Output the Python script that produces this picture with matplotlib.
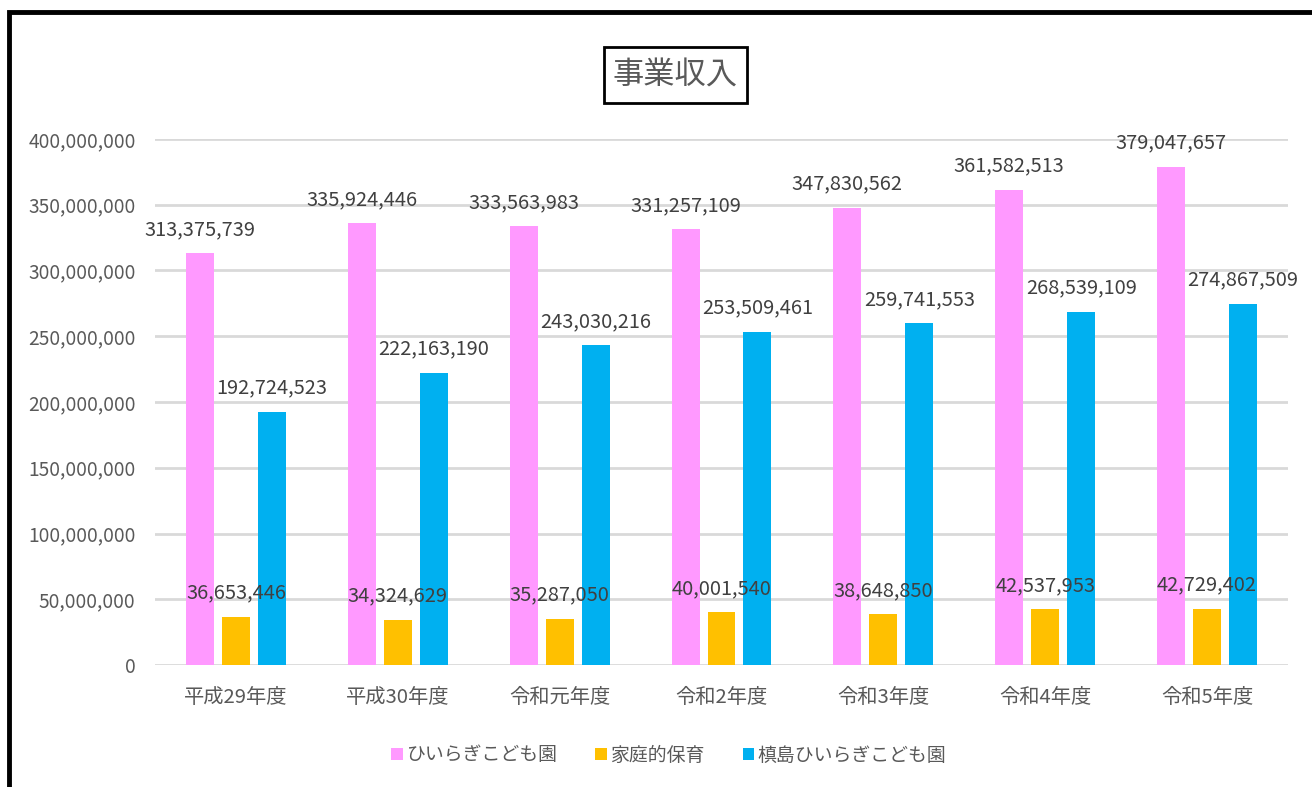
import matplotlib
matplotlib.use("Agg")
import matplotlib.pyplot as plt
from matplotlib.patches import Rectangle
import numpy as np

plt.rcParams['font.family'] = ['Noto Sans CJK JP', 'DejaVu Sans']

categories = ["平成29年度", "平成30年度", "令和元年度", "令和2年度", "令和3年度", "令和4年度", "令和5年度"]
series_names = ["ひいらぎこども園", "家庭的保育", "槙島ひいらぎこども園"]
hiiragi = [313375739, 335924446, 333563983, 331257109, 347830562, 361582513, 379047657]
katei = [36653446, 34324629, 35287050, 40001540, 38648850, 42537953, 42729402]
makishima = [192724523, 222163190, 243030216, 253509461, 259741553, 268539109, 274867509]
colors = ["#FF99FF", "#FFC000", "#00B0F0"]

W, H = 1312, 787
fig = plt.figure(figsize=(W / 100, H / 100), dpi=100)
ax = fig.add_axes([155 / W, 1 - 665 / H, (1288 - 155) / W, (665 - 139) / H])

x = np.arange(len(categories))
step = 36 / 162
bw = 28 / 162
for k, (vals, c) in enumerate(zip([hiiragi, katei, makishima], colors)):
    pos = x + (k - 1) * step
    ax.bar(pos, vals, width=bw, color=c, label=series_names[k], zorder=3)
    for xp, v in zip(pos, vals):
        ax.annotate(f"{v:,}", (xp, v), xytext=(0, 17), textcoords="offset points",
                    ha="center", va="center", fontsize=14.4, color="#404040", zorder=4)

ax.set_xlim(-0.5, len(categories) - 0.5)
ax.set_ylim(0, 400000000)
ax.set_yticks(np.arange(0, 400000001, 50000000))
ax.set_yticklabels([f"{int(v):,}" for v in np.arange(0, 400000001, 50000000)])
ax.set_xticks(x)
ax.set_xticklabels(categories)
ax.tick_params(axis="y", length=0, pad=14, labelsize=13.8, labelcolor="#595959")
ax.tick_params(axis="x", length=0, pad=16, labelsize=14.6, labelcolor="#595959")
ax.grid(axis="y", color="#D9D9D9", linewidth=2, zorder=0)
for s in ax.spines.values():
    s.set_visible(False)

leg = fig.legend(loc="center", bbox_to_anchor=(669 / W, 1 - 755 / H), ncol=3, frameon=False,
                 fontsize=13.6, handlelength=0.6, handleheight=0.6, handletextpad=0.2,
                 columnspacing=2.0, labelcolor="#595959")

fig.text(675.5 / W, 1 - 76 / H, "事業収入", ha="center", va="center", fontsize=22.5, color="#595959")
fig.patches.append(Rectangle((604 / W, 1 - 103 / H), 143 / W, 56 / H, transform=fig.transFigure,
                             fill=False, edgecolor="black", linewidth=2, zorder=10))

fig.patches.append(Rectangle((9 / W, -0.1), 1.2, 1 - 12 / H + 0.1, transform=fig.transFigure,
                             fill=False, edgecolor="black", linewidth=3.5, zorder=10))

fig.savefig("out.png", dpi=100)
